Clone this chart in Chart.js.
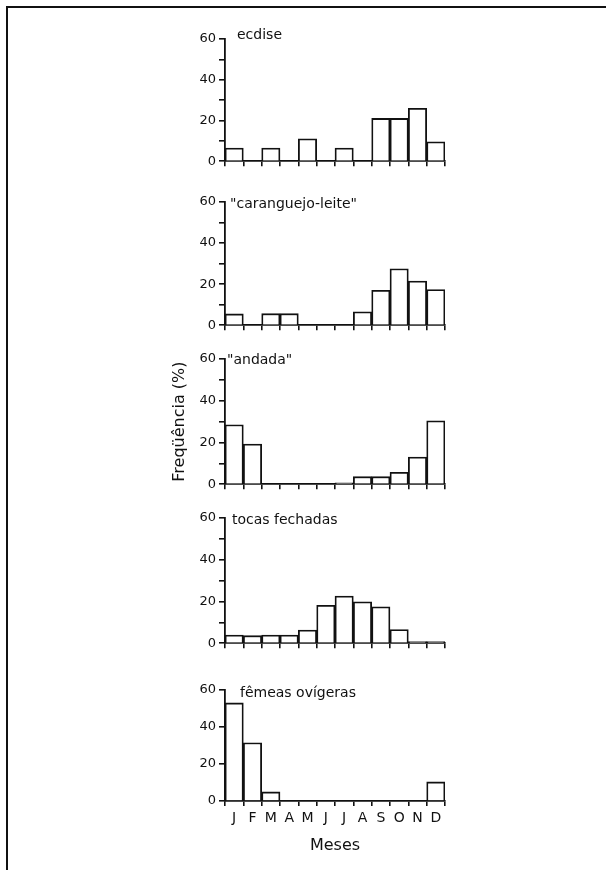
<!DOCTYPE html>
<html><head><meta charset="utf-8">
<script src="https://cdn.jsdelivr.net/npm/chart.js@4"></script>
<style>
html,body{margin:0;padding:0;background:#fff;}
body{width:606px;height:870px;position:relative;overflow:hidden;}
#frame{position:absolute;left:6px;top:6px;width:620px;height:880px;border-top:2px solid #111;border-left:2px solid #111;}
.p{position:absolute;left:0;width:606px;}
</style></head><body>
<div id="frame"></div>
<script>
// ---- data ----
const months = ['J','F','M','A','M','J','J','A','S','O','N','D'];
const ecdise = [6.5,0,6.5,0,11,0,6.5,0,21,21,26,9.5];
const caranguejoLeite = [5.5,0,5.6,5.6,0,0,0,6.5,17,27.5,21.5,17.4];
const andada = [28.5,19.2,0,0,0,0,0.6,3.6,3.6,5.7,13,30.4];
const tocasFechadas = [3.9,3.6,3.9,3.9,6.3,18.2,22.6,19.8,17.4,6.5,0.8,0.8];
const femeasOvigeras = [53,31.5,4.9,0,0,0,0,0,0,0,0,10.3];
const yTicks = [0,20,40,60];
const panelTitles = ['ecdise','"caranguejo-leite"','"andada"','tocas fechadas','fêmeas ovígeras'];
const series = [ecdise, caranguejoLeite, andada, tocasFechadas, femeasOvigeras];
const yTitle = 'Freqüência (%)';
const xTitle = 'Meses';

// ---- layout (pixel geometry of each panel's plot area) ----
const panels = [
  {top:39,  bottom:162, dx:12, dy:-4},
  {top:202, bottom:326, dx:5,  dy:2},
  {top:359, bottom:485, dx:2,  dy:1},
  {top:518, bottom:644, dx:7,  dy:2},
  {top:690, bottom:801, dx:15, dy:3}
];
const FONT = '"DejaVu Sans", sans-serif';
const INK = '#111';

const panelTitle = {
  id:'panelTitle',
  afterDraw(chart, args, opts){
    const {ctx, chartArea, scales} = chart;
    ctx.save();
    ctx.font = '14px ' + FONT;
    ctx.fillStyle = INK;
    ctx.textBaseline = 'middle';
    ctx.textAlign = 'left';
    ctx.fillText(opts.text, chartArea.left + opts.dx, scales.y.getPixelForValue(yTicks[yTicks.length-1]) + opts.dy);
    ctx.restore();
  }
};

panels.forEach((p, i) => {
  const last = i === panels.length - 1;
  const padTop = 16;
  const xH = last ? (870 - p.bottom) : 8;
  const padBottom = last ? 0 : 2;
  const wrap = document.createElement('div');
  wrap.className = 'p';
  wrap.style.top = (p.top - padTop) + 'px';
  wrap.style.height = (padTop + (p.bottom - p.top) + xH + padBottom) + 'px';
  const cv = document.createElement('canvas');
  wrap.appendChild(cv);
  document.body.appendChild(wrap);

  new Chart(cv, {
    type:'bar',
    data:{labels:months, datasets:[{
      data:series[i],
      backgroundColor:'#fff',
      borderColor:INK,
      borderWidth:1.8,
      borderSkipped:'start',
      categoryPercentage:1,
      barPercentage:1
    }]},
    plugins:[panelTitle],
    options:{
      responsive:true, maintainAspectRatio:false, animation:false,
      layout:{padding:{left:170, right:161, top:padTop, bottom:padBottom}},
      plugins:{legend:{display:false}, tooltip:{enabled:false},
        panelTitle:{text:panelTitles[i], dx:p.dx, dy:p.dy}},
      scales:{
        x:{
          z:1,
          offset:true,
          grid:{offset:true, drawOnChartArea:false, drawTicks:true, tickLength:5, color:INK, lineWidth:1.6},
          border:{display:true, color:INK, width:1.8},
          ticks:{display:last, color:INK, font:{family:FONT, size:14}, padding:4, maxRotation:0, autoSkip:false},
          title:{display:last, text:xTitle, color:INK, font:{family:FONT, size:16}, padding:{top:0, bottom:15}},
          afterFit(s){ s.height = xH; }
        },
        y:{
          z:1,
          min:yTicks[0], max:yTicks[yTicks.length-1],
          grid:{drawOnChartArea:false, drawTicks:true, tickLength:6, color:INK, lineWidth:1.6},
          border:{display:true, color:INK, width:1.8},
          ticks:{stepSize:10, color:INK, font:{family:FONT, size:13}, padding:3,
            callback:v => yTicks.includes(v) ? String(v) : ''},
          title:{display:i===2, text:yTitle, color:INK, font:{family:FONT, size:16}, padding:{top:0, bottom:0}},
          afterFit(s){ s.width = 55; }
        }
      }
    }
  });
});
</script>
</body></html>
